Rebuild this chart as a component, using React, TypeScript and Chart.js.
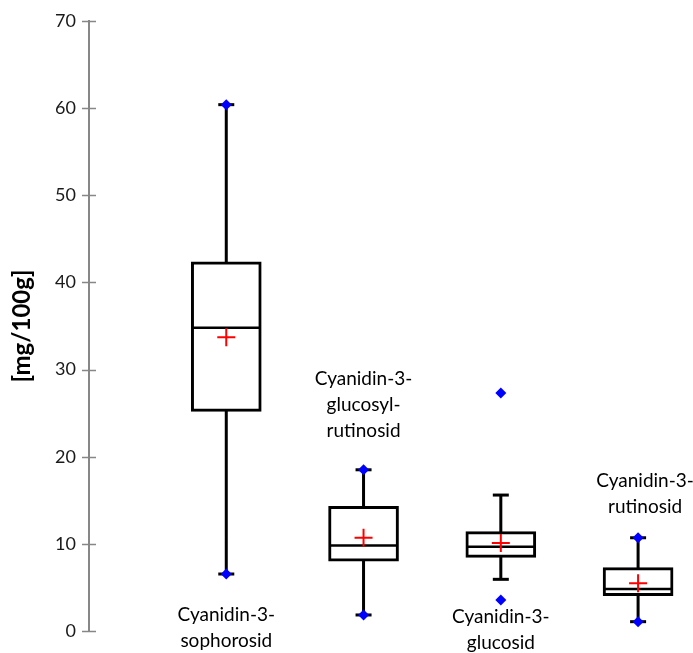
import React, { useEffect, useRef } from "react";
import { Chart, registerables } from "chart.js";

Chart.register(...registerables);

// ---- data (mg/100g) ----
const categories = [
  ["Cyanidin-3-", "sophorosid"],
  ["Cyanidin-3-", "glucosyl-", "rutinosid"],
  ["Cyanidin-3-", "glucosid"],
  ["Cyanidin-3-", "rutinosid"],
];
const q1 = [25.2, 8.0, 8.45, 4.05];
const median = [34.8, 9.8, 9.67, 4.82];
const q3 = [42.35, 14.3, 11.4, 7.27];
const mean = [33.7, 10.7, 10.1, 5.47];
const whiskerLow = [6.54, 1.84, 5.93, 1.07];
const whiskerHigh = [60.4, 18.5, 15.6, 10.7];
const minimum = [6.54, 1.84, 3.56, 1.07];
const maximum = [60.4, 18.5, 27.3, 10.7];
const yTicks = [0, 10, 20, 30, 40, 50, 60, 70];

// label placement (first line, in axis units; x shift in px) – layout only
const labelLineValue = [1.85, 28.9, 1.6, 17.2];
const labelShift = [0, 0, 0, 7];
const LINE_H = 26;

const FONT = "Lato, 'Open Sans', sans-serif";
const AXIS_GRAY = "#878787";

const tickCrossPlugin = {
  id: "tickCross",
  afterDraw(chart: any) {
    const y = chart.scales.y;
    const ctx = chart.ctx;
    const x0 = y.right;
    ctx.save();
    ctx.strokeStyle = AXIS_GRAY;
    ctx.lineWidth = 1.5;
    for (const t of yTicks) {
      const py = Math.round(y.getPixelForValue(t)) + 0.5;
      ctx.beginPath();
      ctx.moveTo(x0 - 7, py);
      ctx.lineTo(x0 + 7, py);
      ctx.stroke();
    }
    ctx.restore();
  },
};

const labelPlugin = {
  id: "catLabels",
  afterDatasetsDraw(chart: any) {
    const xs = chart.scales.x;
    const ys = chart.scales.y;
    const ctx = chart.ctx;
    ctx.save();
    ctx.font = `19px ${FONT}`;
    ctx.fillStyle = "#000";
    ctx.textAlign = "center";
    ctx.textBaseline = "middle";
    categories.forEach((lines, i) => {
      const cx = xs.getPixelForValue(i + 1) + labelShift[i];
      const y0 = ys.getPixelForValue(labelLineValue[i]);
      lines.forEach((l, j) => ctx.fillText(l, cx, y0 + j * LINE_H));
    });
    ctx.restore();
  },
};

function pts(vals: number[]) {
  return vals.map((v, i) => ({ x: i + 1, y: v }));
}

export default function App() {
  const ref = useRef<HTMLCanvasElement>(null);
  useEffect(() => {
    document.body.style.margin = "0";
    const canvas = ref.current!;
    const whiskerData: any[] = [];
    whiskerLow.forEach((lo, i) => {
      whiskerData.push({ x: i + 1, y: lo });
      whiskerData.push({ x: i + 1, y: whiskerHigh[i] });
      whiskerData.push({ x: i + 1.5, y: null });
    });
    const chart = new Chart(canvas, {
      type: "bar",
      data: {
        datasets: [
          {
            type: "line",
            data: pts(mean),
            showLine: false,
            pointStyle: "cross",
            pointRadius: 9,
            pointBorderWidth: 2,
            pointBorderColor: "#ff0000",
            pointBackgroundColor: "#ff0000",
          },
          {
            type: "line",
            data: [...pts(minimum), ...pts(maximum)],
            showLine: false,
            pointStyle: "rectRot",
            pointRadius: 5.5,
            pointBorderWidth: 0,
            pointBackgroundColor: "#0000ff",
            pointBorderColor: "#0000ff",
          },
          {
            type: "line",
            data: [...pts(whiskerLow), ...pts(whiskerHigh)],
            showLine: false,
            pointStyle: "line",
            pointRadius: 8,
            pointBorderWidth: 3,
            pointBorderColor: "#000",
          },
          {
            type: "line",
            data: pts(median),
            showLine: false,
            pointStyle: "line",
            pointRadius: 34,
            pointBorderWidth: 2.5,
            pointBorderColor: "#000",
          },
          {
            type: "bar",
            data: q1.map((v, i) => ({ x: i + 1, y: [v, q3[i]] })) as any,
            barThickness: 70,
            backgroundColor: "#ffffff",
            borderColor: "#000",
            borderWidth: 3,
            borderSkipped: false,
          },
          {
            type: "line",
            data: whiskerData,
            showLine: true,
            spanGaps: false,
            borderColor: "#000",
            borderWidth: 3,
            pointRadius: 0,
          },
        ] as any,
      },
      options: {
        animation: false,
        responsive: false,
        layout: { autoPadding: false, padding: { top: 21, bottom: 22, left: 0, right: 0 } },
        plugins: { legend: { display: false }, tooltip: { enabled: false } },
        scales: {
          x: { type: "linear", display: false, offset: false, min: 0, max: 4.4 },
          y: {
            min: 0,
            max: 70,
            afterBuildTicks(scale: any) {
              scale.ticks = yTicks.map((v) => ({ value: v }));
            },
            afterFit(scale: any) {
              scale.width = 89;
              scale.paddingTop = 0;
              scale.paddingBottom = 0;
            },
            ticks: {
              padding: 13,
              color: "#1a1a1a",
              font: { family: FONT, size: 18 },
            },
            grid: {
              drawOnChartArea: false,
              drawTicks: false,
              tickLength: 7,
            },
            border: { display: true, color: AXIS_GRAY, width: 2 },
            title: {
              display: true,
              text: "[mg/100g]",
              color: "#000",
              font: { family: FONT, size: 24, weight: "bold" },
              padding: { top: 8, bottom: 0 },
            },
          },
        },
      },
      plugins: [tickCrossPlugin, labelPlugin],
    });
    return () => chart.destroy();
  }, []);
  return <canvas ref={ref} width={693} height={653} style={{ display: "block" }} />;
}
